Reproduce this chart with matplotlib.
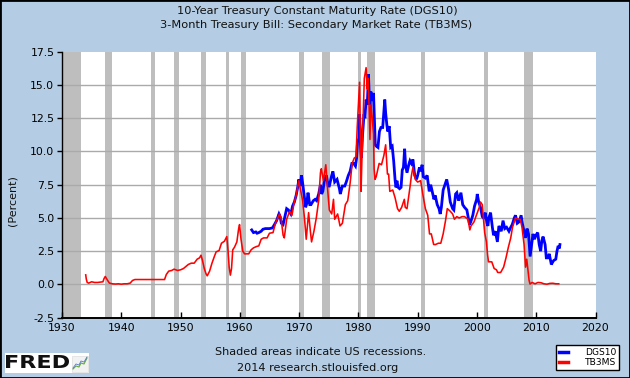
import matplotlib
matplotlib.use("Agg")
import matplotlib.pyplot as plt
import matplotlib.transforms as mtransforms
from matplotlib.patches import Rectangle, PathPatch
from matplotlib.textpath import TextPath
from matplotlib.font_manager import FontProperties
from matplotlib.lines import Line2D

# ---------------- data ----------------
title_lines = ["10-Year Treasury Constant Maturity Rate (DGS10)",
               "3-Month Treasury Bill: Secondary Market Rate (TB3MS)"]
y_label = "(Percent)"
footer_lines = ["Shaded areas indicate US recessions.",
                "2014 research.stlouisfed.org"]
series_names = ["DGS10", "TB3MS"]
x_ticks = [1930, 1940, 1950, 1960, 1970, 1980, 1990, 2000, 2010, 2020]
y_ticks = [-2.5, 0.0, 2.5, 5.0, 7.5, 10.0, 12.5, 15.0, 17.5]

recession_starts = ["1929-08", "1937-05", "1945-02", "1948-11", "1953-07", "1957-08",
                    "1960-04", "1969-12", "1973-11", "1980-01", "1981-07", "1990-07",
                    "2001-03", "2007-12"]
recession_ends = ["1933-03", "1938-06", "1945-10", "1949-10", "1954-05", "1958-04",
                  "1961-02", "1970-11", "1975-03", "1980-07", "1982-11", "1991-03",
                  "2001-11", "2009-06"]

dgs10_years = [1962.0, 1962.3, 1962.7, 1962.9, 1963.2, 1963.6, 1963.9, 1964.3, 1964.7,
               1965.0, 1965.5, 1965.9, 1966.2, 1966.6, 1966.8, 1967.0, 1967.3, 1967.6,
               1967.9, 1968.2, 1968.6, 1968.9, 1969.2, 1969.5, 1969.8, 1969.95, 1970.2,
               1970.4, 1970.6, 1970.9, 1971.1, 1971.3, 1971.5, 1971.8, 1972.0, 1972.4,
               1972.7, 1972.95, 1973.3, 1973.6, 1973.8, 1974.0, 1974.3, 1974.6, 1974.9,
               1975.1, 1975.5, 1975.7, 1976.0, 1976.4, 1976.8, 1976.95, 1977.3, 1977.7,
               1977.95, 1978.3, 1978.6, 1978.9, 1979.2, 1979.5, 1979.7, 1979.85, 1980.1,
               1980.2, 1980.35, 1980.5, 1980.7, 1980.95, 1981.1, 1981.3, 1981.5, 1981.7,
               1981.85, 1981.95, 1982.1, 1982.4, 1982.55, 1982.7, 1982.85, 1983.0, 1983.3,
               1983.55, 1983.8, 1984.1, 1984.45, 1984.6, 1984.8, 1984.95, 1985.2, 1985.45,
               1985.7, 1985.95, 1986.2, 1986.35, 1986.5, 1986.7, 1986.95, 1987.2, 1987.4,
               1987.6, 1987.8, 1987.95, 1988.2, 1988.5, 1988.7, 1988.95, 1989.2, 1989.5,
               1989.8, 1990.0, 1990.3, 1990.5, 1990.75, 1990.95, 1991.3, 1991.6, 1991.95,
               1992.2, 1992.5, 1992.75, 1992.95, 1993.3, 1993.6, 1993.8, 1994.0, 1994.3,
               1994.6, 1994.9, 1995.2, 1995.5, 1995.9, 1996.1, 1996.4, 1996.6, 1996.9,
               1997.3, 1997.6, 1997.9, 1998.3, 1998.75, 1998.95, 1999.3, 1999.6, 1999.95,
               2000.05, 2000.3, 2000.6, 2000.9, 2001.1, 2001.4, 2001.7, 2001.85, 2002.0,
               2002.3, 2002.6, 2002.8, 2003.1, 2003.45, 2003.7, 2004.1, 2004.4, 2004.7,
               2005.0, 2005.4, 2005.7, 2005.95, 2006.3, 2006.5, 2006.8, 2007.1, 2007.45,
               2007.7, 2007.95, 2008.2, 2008.45, 2008.7, 2008.9, 2008.97, 2009.2, 2009.45,
               2009.7, 2009.95, 2010.25, 2010.5, 2010.75, 2010.95, 2011.15, 2011.5, 2011.7,
               2011.95, 2012.2, 2012.55, 2012.8, 2012.95, 2013.3, 2013.5, 2013.7, 2013.9,
               2014.0]
dgs10_values = [4.1, 3.9, 3.95, 3.85, 3.9, 4.0, 4.15, 4.2, 4.2,
                4.2, 4.25, 4.55, 4.8, 5.3, 5.1, 4.6, 4.5, 5.1,
                5.7, 5.6, 5.3, 5.9, 6.2, 6.7, 7.4, 7.9, 7.4,
                8.2, 7.6, 6.5, 5.8, 6.1, 6.9, 6.0, 6.0, 6.3,
                6.4, 6.3, 6.8, 7.5, 6.8, 7.0, 7.9, 8.2, 7.4,
                7.4, 8.2, 8.5, 7.7, 7.9, 7.2, 6.8, 7.4, 7.4,
                7.7, 8.2, 8.5, 9.1, 9.1, 8.9, 9.5, 10.7, 11.0,
                12.8, 10.5, 9.5, 11.2, 12.8, 12.5, 13.9, 13.5, 15.8,
                14.0, 13.5, 14.5, 13.8, 14.4, 12.5, 10.5, 10.4, 10.3,
                11.5, 11.8, 11.8, 13.9, 12.9, 12.0, 11.5, 11.9, 10.3,
                10.4, 9.3, 7.8, 7.3, 7.8, 7.3, 7.2, 7.3, 8.6,
                8.8, 10.2, 9.0, 8.4, 9.0, 9.3, 9.1, 9.4, 8.2,
                7.9, 8.2, 8.8, 8.5, 9.0, 8.1, 8.0, 8.2, 7.0,
                7.5, 6.9, 6.4, 6.7, 6.0, 5.7, 5.3, 5.8, 7.1,
                7.5, 7.9, 7.2, 6.2, 5.7, 5.6, 6.8, 6.9, 6.3,
                6.9, 6.0, 5.8, 5.6, 4.5, 4.7, 5.2, 5.9, 6.4,
                6.8, 6.2, 5.8, 5.1, 5.0, 5.4, 4.6, 4.4, 5.0,
                5.4, 4.3, 3.7, 4.0, 3.2, 4.4, 4.0, 4.8, 4.2,
                4.3, 4.0, 4.3, 4.5, 5.0, 5.2, 4.6, 4.7, 5.2,
                4.5, 4.0, 3.5, 4.2, 3.8, 2.5, 2.1, 2.9, 3.8,
                3.4, 3.7, 3.9, 3.0, 2.5, 3.3, 3.6, 3.0, 2.0,
                2.0, 2.3, 1.5, 1.7, 1.8, 1.9, 2.5, 2.9, 2.7,
                3.0]

tb3ms_years = [1934.0, 1934.1, 1934.25, 1934.5, 1935.0, 1935.5, 1936.0, 1936.5, 1936.9,
               1937.1, 1937.3, 1937.5, 1937.7, 1938.0, 1938.5, 1939.0, 1939.5, 1940.0,
               1940.5, 1941.0, 1941.5, 1941.9, 1942.3, 1947.3, 1947.6, 1948.0, 1948.5,
               1948.9, 1949.5, 1950.0, 1950.5, 1950.9, 1951.3, 1951.8, 1952.3, 1952.8,
               1953.2, 1953.45, 1953.7, 1954.0, 1954.3, 1954.5, 1954.9, 1955.3, 1955.7,
               1956.0, 1956.5, 1956.9, 1957.4, 1957.8, 1958.0, 1958.2, 1958.4, 1958.6,
               1958.8, 1959.1, 1959.5, 1959.8, 1959.95, 1960.2, 1960.5, 1960.8, 1961.1,
               1961.5, 1961.9, 1962.3, 1962.8, 1963.2, 1963.6, 1964.0, 1964.6, 1965.0,
               1965.6, 1966.0, 1966.7, 1966.95, 1967.3, 1967.5, 1967.9, 1968.4, 1968.8,
               1969.1, 1969.5, 1969.95, 1970.2, 1970.6, 1970.9, 1971.2, 1971.6, 1971.9,
               1972.1, 1972.5, 1972.9, 1973.3, 1973.6, 1973.75, 1974.1, 1974.5, 1974.8,
               1975.1, 1975.5, 1975.8, 1976.0, 1976.5, 1976.9, 1977.3, 1977.8, 1978.2,
               1978.6, 1978.95, 1979.3, 1979.6, 1979.8, 1980.2, 1980.3, 1980.45, 1980.6,
               1980.9, 1981.0, 1981.3, 1981.5, 1981.6, 1981.8, 1981.95, 1982.1, 1982.3,
               1982.55, 1982.65, 1982.8, 1983.0, 1983.5, 1983.9, 1984.3, 1984.6, 1984.9,
               1985.1, 1985.3, 1985.8, 1986.2, 1986.6, 1986.9, 1987.3, 1987.75, 1987.9,
               1988.2, 1988.7, 1988.95, 1989.2, 1989.6, 1990.0, 1990.5, 1990.9, 1991.3,
               1991.7, 1992.0, 1992.3, 1992.7, 1993.0, 1993.5, 1993.9, 1994.3, 1994.7,
               1995.0, 1995.5, 1995.9, 1996.2, 1996.6, 1997.0, 1997.5, 1997.9, 1998.5,
               1998.8, 1999.0, 1999.5, 1999.9, 2000.4, 2000.6, 2000.9, 2001.1, 2001.3,
               2001.6, 2001.8, 2001.95, 2002.5, 2002.9, 2003.3, 2003.5, 2004.0, 2004.5,
               2004.9, 2005.3, 2005.7, 2006.0, 2006.5, 2006.9, 2007.3, 2007.6, 2007.95,
               2008.1, 2008.2, 2008.4, 2008.6, 2008.8, 2008.95, 2009.3, 2009.8, 2010.3,
               2010.8, 2011.3, 2011.8, 2012.3, 2012.8, 2013.3, 2013.8]
tb3ms_values = [0.72, 0.4, 0.15, 0.1, 0.2, 0.15, 0.15, 0.18, 0.2,
                0.45, 0.6, 0.45, 0.3, 0.1, 0.05, 0.03, 0.05, 0.02,
                0.05, 0.05, 0.1, 0.3, 0.37, 0.37, 0.75, 1.0, 1.05,
                1.15, 1.05, 1.1, 1.2, 1.35, 1.5, 1.6, 1.6, 1.9,
                2.0, 2.2, 1.8, 1.2, 0.8, 0.65, 1.0, 1.6, 2.1,
                2.45, 2.55, 3.1, 3.25, 3.6, 2.6, 1.3, 0.7, 1.2,
                2.6, 2.8, 3.2, 4.2, 4.5, 3.4, 2.5, 2.3, 2.3,
                2.3, 2.6, 2.75, 2.85, 2.9, 3.4, 3.5, 3.5, 3.85,
                3.9, 4.6, 5.3, 5.0, 3.7, 3.5, 4.9, 5.5, 5.2,
                6.0, 6.7, 7.8, 7.2, 6.3, 5.0, 3.4, 5.4, 4.0,
                3.2, 4.0, 5.0, 6.3, 8.4, 8.7, 7.8, 9.0, 7.2,
                5.6, 5.3, 6.4, 4.9, 5.3, 4.4, 4.6, 6.0, 6.3,
                7.6, 9.1, 9.5, 9.6, 11.8, 15.2, 12.0, 7.0, 9.5,
                14.0, 15.5, 16.3, 14.7, 15.5, 13.5, 10.9, 13.5, 12.7,
                11.3, 8.7, 7.9, 8.1, 9.1, 9.0, 9.7, 10.5, 8.3,
                8.3, 7.0, 7.1, 6.5, 5.7, 5.5, 5.8, 6.4, 5.8,
                5.7, 7.3, 8.2, 8.8, 7.9, 7.7, 7.8, 6.7, 5.7,
                5.2, 3.8, 3.8, 3.0, 3.0, 3.1, 3.1, 3.8, 4.8,
                5.7, 5.5, 5.3, 4.9, 5.1, 5.0, 5.1, 5.1, 4.9,
                4.1, 4.4, 4.7, 5.2, 5.8, 6.2, 6.0, 4.9, 3.9,
                3.2, 2.2, 1.7, 1.7, 1.2, 1.1, 0.9, 0.9, 1.3,
                2.0, 2.8, 3.5, 4.3, 5.0, 4.9, 4.9, 4.3, 3.0,
                2.0, 1.3, 1.9, 1.1, 0.3, 0.03, 0.15, 0.05, 0.15,
                0.13, 0.05, 0.02, 0.08, 0.09, 0.05, 0.05]

# ---------------- style ----------------
BG = "#B4CDE4"
SHADE = "#BEBEBE"
GRID = "#AAAAAA"
W, H = 630, 378


def ym_to_year(s):
    y, m = s.split("-")
    return int(y) + (int(m) - 1) / 12.0


fig = plt.figure(figsize=(W / 100, H / 100), dpi=100, facecolor=BG)
left, right, top, bottom = 62, 595.5, 51.7, 317.7
ax = fig.add_axes([left / W, 1 - bottom / H, (right - left) / W, (bottom - top) / H])
ax.set_facecolor("white")
ax.set_xlim(x_ticks[0], x_ticks[-1])
ax.set_ylim(y_ticks[0], y_ticks[-1])

for s, e in zip(recession_starts, recession_ends):
    ax.axvspan(ym_to_year(s), ym_to_year(e), color=SHADE, lw=0, zorder=1)

for yv in y_ticks[1:-1]:
    ax.axhline(yv, color=GRID, lw=1.0, zorder=2)

ax.plot(dgs10_years, dgs10_values, color="#0000FF", lw=2.0, zorder=3,
        solid_joinstyle="miter")
ax.plot(tb3ms_years, tb3ms_values, color="#FF0000", lw=1.15, zorder=4)

ax.set_xticks(x_ticks)
ax.set_yticks(y_ticks)
ax.set_yticklabels([f"{v:.1f}" for v in y_ticks])
ax.tick_params(axis="x", direction="in", length=4, width=1, labelsize=7.8, pad=4,
               colors="black")
ax.tick_params(axis="y", direction="out", length=3.5, width=1, labelsize=7.8, pad=2,
               colors="black")
for side in ["top", "right"]:
    ax.spines[side].set_visible(False)
ax.spines["left"].set_linewidth(1.0)
ax.spines["bottom"].set_linewidth(1.4)

# titles and texts
TXT = "#111111"
fig.text(317 / W, 1 - 11.5 / H, title_lines[0], ha="center", va="center", fontsize=8.2,
         color=TXT)
fig.text(316 / W, 1 - 25.5 / H, title_lines[1], ha="center", va="center", fontsize=8.2,
         color=TXT)
fig.text(12 / W, 1 - 201 / H, y_label, rotation=90, ha="center", va="center",
         fontsize=8.0, color=TXT)
fig.text(321 / W, 1 - 352 / H, footer_lines[0], ha="center", va="center", fontsize=8.1,
         color=TXT)
fig.text(318 / W, 1 - 368 / H, footer_lines[1], ha="center", va="center", fontsize=8.1,
         color=TXT)

# legend
handles = [Line2D([], [], color="#0000FF", lw=2.5), Line2D([], [], color="#FF0000", lw=2.5)]
leg = fig.legend(handles, series_names, loc="upper left",
                 bbox_to_anchor=(556 / W, 1 - 345 / H), frameon=True, fancybox=False,
                 edgecolor="black", framealpha=1, fontsize=6.6, handlelength=1.0,
                 handletextpad=1.9, borderpad=0.3, labelspacing=0.15,
                 borderaxespad=0)
leg.get_frame().set_linewidth(1.0)

# FRED logo
px = mtransforms.Affine2D().scale(1 / 100.0) + fig.dpi_scale_trans
fig.add_artist(Rectangle((5, H - 373), 84, 20, transform=px, facecolor="white",
                         edgecolor="none"))
tp = TextPath((0, 0), "FRED", size=10, prop=FontProperties(family="DejaVu Sans",
                                                             weight="bold"))
bb = tp.get_extents()
sx, sy = 63.0 / bb.width, 13.0 / bb.height
tr = (mtransforms.Affine2D().translate(-bb.x0, -bb.y0).scale(sx, sy)
      .translate(6, H - 368) + px)
fig.add_artist(PathPatch(tp, transform=tr, facecolor="#111111", lw=0))
fig.add_artist(Rectangle((72, H - 372), 16, 16, transform=px, facecolor="#F2F2F2",
                         edgecolor="#DDDDDD", lw=0.5))
icon_x = [73, 76, 79, 81, 84, 87]
icon_green = [H - 369, H - 366, H - 367, H - 363, H - 364, H - 358]
icon_blue = [H - 368, H - 364, H - 365, H - 361, H - 362, H - 357]
fig.add_artist(Line2D(icon_x, icon_green, transform=px, color="#66AA33", lw=0.8))
fig.add_artist(Line2D(icon_x, icon_blue, transform=px, color="#5577CC", lw=0.6))

# outer border
fig.add_artist(Rectangle((0, 0), 1, 1, transform=fig.transFigure, fill=False,
                         edgecolor="black", lw=2.0))

fig.savefig("out.png", dpi=100, facecolor=BG)
